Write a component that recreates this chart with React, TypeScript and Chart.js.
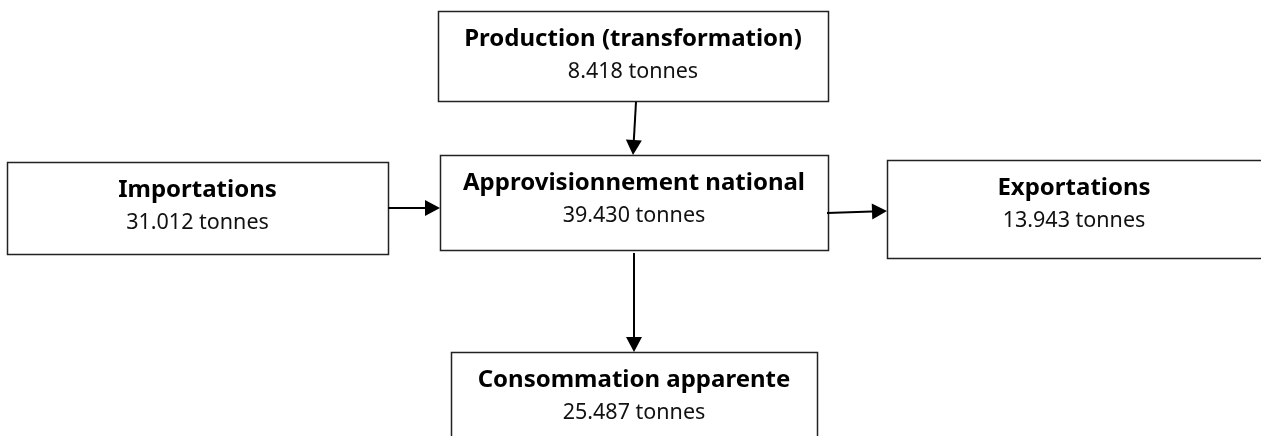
import React, { useEffect, useRef } from "react";
import { Chart, registerables } from "chart.js";

Chart.register(...registerables);

// ---- data ----
const nodeTitles = [
  "Production (transformation)",
  "Importations",
  "Approvisionnement national",
  "Exportations",
  "Consommation apparente",
];
const nodeValues = [8418, 31012, 39430, 13943, 25487];
const valueUnit = "tonnes";
// flows: [fromIndex, toIndex]
const flowFrom = [0, 1, 2, 2];
const flowTo = [2, 2, 3, 4];

// ---- layout (data units of the hidden scales) ----
const boxLeft = [438, 7, 440, 887, 451];
const boxTop = [11, 162, 155, 160, 352];
const boxRight = [828, 388, 828, 1266, 817];
const boxBottom = [101, 254, 250, 258, 450];
// arrow endpoints for each flow
const arrowStartX = [636, 388, 827, 634];
const arrowStartY = [102, 208, 213, 253];
const arrowEndX = [633, 440, 887, 634];
const arrowEndY = [155, 208, 211, 352];

const FONT = "'Noto Sans', 'DejaVu Sans', sans-serif";

function formatValue(v: number): string {
  const s = String(Math.round(v));
  return s.replace(/\B(?=(\d{3})+(?!\d))/g, ".");
}

const flowPlugin = {
  id: "flowDiagram",
  afterDraw(chart: any) {
    const ctx: CanvasRenderingContext2D = chart.ctx;
    const xs = chart.scales.x;
    const ys = chart.scales.y;
    const px = (v: number) => xs.getPixelForValue(v);
    const py = (v: number) => ys.getPixelForValue(v);
    ctx.save();
    // boxes
    for (let i = 0; i < nodeTitles.length; i++) {
      const x0 = px(boxLeft[i]);
      const x1 = px(boxRight[i]);
      const y0 = py(boxTop[i]);
      const y1 = py(boxBottom[i]);
      ctx.fillStyle = "#ffffff";
      ctx.fillRect(x0, y0, x1 - x0, y1 - y0);
      ctx.strokeStyle = "#222222";
      ctx.lineWidth = 1.5;
      ctx.strokeRect(x0 + 0.5, y0 + 0.5, x1 - x0, y1 - y0);
      const cx = (Math.max(x0, 0) + Math.min(x1, chart.width)) / 2;
      ctx.textAlign = "center";
      ctx.textBaseline = "alphabetic";
      ctx.fillStyle = "#000000";
      ctx.font = `bold 24px ${FONT}`;
      ctx.fillText(nodeTitles[i], cx, y0 + 35);
      ctx.font = `normal 21.5px ${FONT}`;
      ctx.fillStyle = "#111111";
      ctx.fillText(`${formatValue(nodeValues[i])} ${valueUnit}`, cx, y0 + 67);
    }
    // arrows
    for (let k = 0; k < flowFrom.length; k++) {
      const sx = px(arrowStartX[k]);
      const sy = py(arrowStartY[k]);
      const ex = px(arrowEndX[k]);
      const ey = py(arrowEndY[k]);
      const ang = Math.atan2(ey - sy, ex - sx);
      const headLen = 15;
      const headHalf = 8;
      const bx = ex - headLen * Math.cos(ang);
      const by = ey - headLen * Math.sin(ang);
      ctx.strokeStyle = "#000000";
      ctx.lineWidth = 2;
      ctx.beginPath();
      ctx.moveTo(sx, sy);
      ctx.lineTo(bx, by);
      ctx.stroke();
      ctx.fillStyle = "#000000";
      ctx.beginPath();
      ctx.moveTo(ex, ey);
      ctx.lineTo(bx + headHalf * Math.sin(ang), by - headHalf * Math.cos(ang));
      ctx.lineTo(bx - headHalf * Math.sin(ang), by + headHalf * Math.cos(ang));
      ctx.closePath();
      ctx.fill();
    }
    ctx.restore();
  },
};

export default function App() {
  const canvasRef = useRef<HTMLCanvasElement | null>(null);
  useEffect(() => {
    document.body.style.margin = "0";
    const canvas = canvasRef.current;
    if (!canvas) return;
    const chart = new Chart(canvas, {
      type: "scatter",
      data: {
        datasets: [
          {
            label: "nodes",
            data: nodeValues.map((_, i) => ({
              x: (boxLeft[i] + boxRight[i]) / 2,
              y: (boxTop[i] + boxBottom[i]) / 2,
            })),
            pointRadius: 0,
            pointHoverRadius: 0,
          },
        ],
      },
      options: {
        animation: false,
        responsive: false,
        devicePixelRatio: 1,
        layout: { padding: 0 },
        plugins: {
          legend: { display: false },
          tooltip: { enabled: false },
          title: { display: false },
        },
        scales: {
          x: { type: "linear", min: 0, max: 1261, display: false },
          y: { type: "linear", min: 0, max: 436, reverse: true, display: false },
        },
      },
      plugins: [flowPlugin],
    });
    return () => chart.destroy();
  }, []);
  return (
    <div style={{ width: 1261, height: 436, background: "#ffffff" }}>
      <canvas ref={canvasRef} width={1261} height={436} />
    </div>
  );
}
